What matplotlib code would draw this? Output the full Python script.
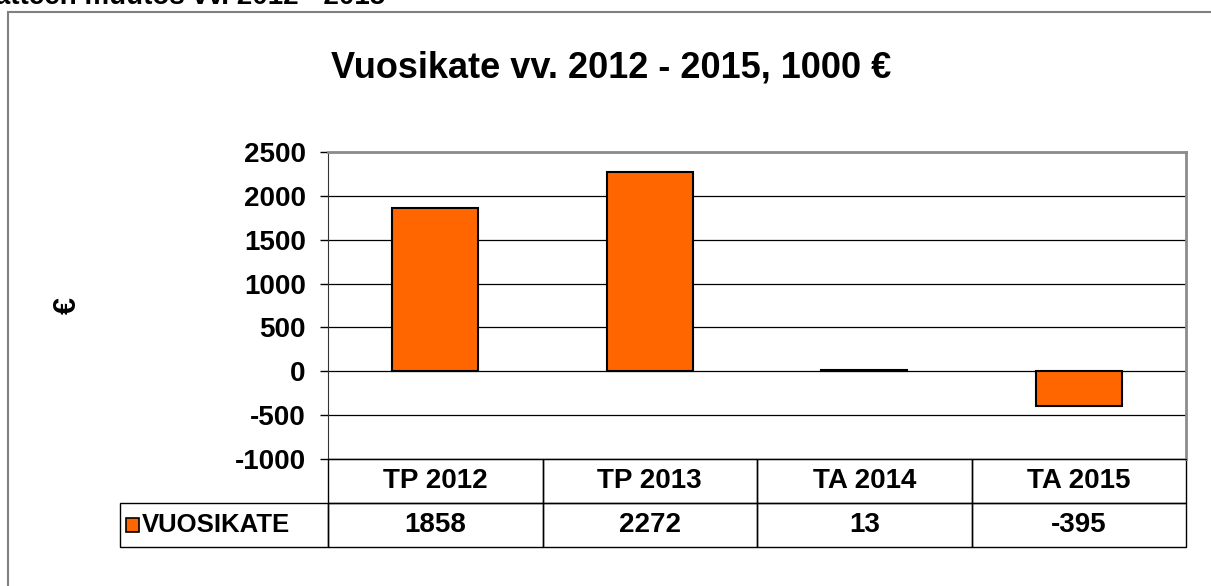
import matplotlib.pyplot as plt
from matplotlib.patches import Rectangle
import matplotlib

matplotlib.rcParams['font.family'] = ['Liberation Sans', 'DejaVu Sans']
matplotlib.rcParams['font.weight'] = 'bold'
matplotlib.rcParams['axes.unicode_minus'] = False

# data
categories = ['TP 2012', 'TP 2013', 'TA 2014', 'TA 2015']
vuosikate = [1858, 2272, 13, -395]
series_name = 'VUOSIKATE'
yticks = [-1000, -500, 0, 500, 1000, 1500, 2000, 2500]

fig = plt.figure(figsize=(12.11, 5.86), dpi=100)
ax = fig.add_axes([328/1211, 127/586, 858/1211, 307/586])

x = range(len(categories))
ax.bar(x, vuosikate, width=0.4, color='#FF6600', edgecolor='black', linewidth=1.5, zorder=3)

ax.set_xlim(-0.5, len(categories) - 0.5)
ax.set_ylim(-1000, 2500)
ax.set_yticks(yticks)
ax.tick_params(axis='y', labelsize=20, length=6, width=1, direction='out', pad=10)
ax.set_xticks([])
for lab in ax.get_yticklabels():
    lab.set_fontweight('bold')
ax.grid(axis='y', color='black', linewidth=0.9, zorder=0)

ax.spines['top'].set_color('#8c8c8c')
ax.spines['top'].set_linewidth(2)
ax.spines['right'].set_color('#8c8c8c')
ax.spines['right'].set_linewidth(2)
ax.spines['left'].set_color('#333333')
ax.spines['bottom'].set_color('black')

# data table under the plot
tr = ax.get_xaxis_transform()
row_h = 44 / 307
for i, cat in enumerate(categories):
    ax.add_patch(Rectangle((i - 0.5, -row_h), 1, row_h, transform=tr, fill=False,
                           edgecolor='black', linewidth=1, clip_on=False))
    ax.add_patch(Rectangle((i - 0.5, -2 * row_h), 1, row_h, transform=tr, fill=False,
                           edgecolor='black', linewidth=1, clip_on=False))
    ax.text(i, -row_h / 2, cat, transform=tr, ha='center', va='center', fontsize=20, fontweight='bold')
    ax.text(i, -1.5 * row_h, str(vuosikate[i]), transform=tr, ha='center', va='center',
            fontsize=20, fontweight='bold')

lab_w = 208 / 214.5
ax.add_patch(Rectangle((-0.5 - lab_w, -2 * row_h), lab_w, row_h, transform=tr, fill=False,
                       edgecolor='black', linewidth=1, clip_on=False))
ax.add_patch(Rectangle((-0.5 - lab_w + 0.03, -1.5 * row_h - 0.022), 0.058, 0.045, transform=tr,
                       facecolor='#FF6600', edgecolor='black', linewidth=1.2, clip_on=False))
ax.text(-0.5 - lab_w + 0.1, -1.5 * row_h, series_name, transform=tr, ha='left', va='center',
        fontsize=18.5, fontweight='bold')

# titles
fig.text(0.505, 1 - 68/586, 'Vuosikate vv. 2012 - 2015, 1000 €', ha='center', va='center',
         fontsize=26, fontweight='bold')
fig.text(68/1211, 1 - 305/586, '€', rotation=90, ha='center', va='center', fontsize=22, fontweight='bold')
fig.text(385/1211, 1 - 4/586, 'Vuosikatteen muutos vv. 2012 - 2015', ha='right', va='baseline',
         fontsize=20, fontweight='bold')

# outer chart frame
fig.add_artist(Rectangle((8/1211, -0.1), 1.2, 1 - 12/586 + 0.1, transform=fig.transFigure,
                         fill=False, edgecolor='#808080', linewidth=1.5))

plt.savefig('out.png', dpi=100)
